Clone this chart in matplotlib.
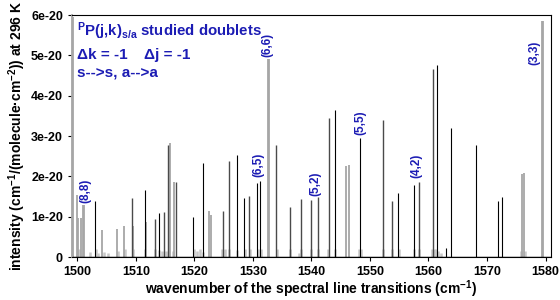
"""
Stick spectrum of PP(j,k) doublets around 1500-1580 cm-1.
"""
import matplotlib
matplotlib.use("Agg")
import matplotlib.pyplot as plt

# line positions (cm-1) and intensities (units of 1e-20)
gray_wn = [1499.25, 1499.9, 1500.2, 1500.6, 1500.95, 1501.1, 1504.2, 1506.7, 1508.0, 1509.6,
           1511.75, 1515.9, 1516.6, 1522.5, 1522.9, 1532.5, 1532.7, 1545.9, 1546.35,
           1575.9, 1576.35, 1579.35, 1579.5]
gray_int = [5.95, 1.53, 0.97, 0.97, 1.30, 1.30, 0.68, 0.70, 0.77, 0.78,
            0.88, 2.83, 1.86, 1.15, 1.05, 4.90, 4.90, 2.25, 2.29,
            2.05, 2.09, 5.86, 5.86]

dark_wn = [1509.3, 1513.2, 1514.8, 1515.5, 1516.9, 1524.9, 1525.9, 1529.4, 1534.0, 1536.35,
           1538.2, 1539.9, 1541.1, 1543.0, 1552.2, 1553.75, 1558.36, 1560.8]
dark_int = [1.47, 0.95, 1.12, 2.78, 1.86, 1.15, 2.38, 1.52, 2.78, 1.25,
            1.44, 1.42, 1.50, 3.44, 3.40, 1.40, 1.86, 4.67]

black_wn = [1503.0, 1511.5, 1513.9, 1519.8, 1521.4, 1527.25, 1528.55, 1530.7, 1531.3, 1543.97,
            1548.35, 1554.8, 1557.55, 1561.4, 1563.0, 1563.9, 1568.1, 1571.96, 1572.5]
black_int = [1.40, 1.65, 1.10, 0.98, 2.32, 2.52, 1.47, 1.84, 1.88, 3.65,
             2.96, 1.58, 1.78, 4.75, 0.23, 3.19, 2.78, 1.38, 1.48]

# weak lines sitting on the baseline
weak_wn = [1500.3, 1502.2, 1503.2, 1503.6, 1504.5, 1505.3, 1506.9, 1508.2, 1509.5, 1511.6,
           1513.3, 1514.0, 1514.5, 1515.2, 1516.4, 1519.9, 1520.5, 1521.0, 1521.5, 1524.8,
           1525.3, 1526.0, 1527.3, 1528.6, 1529.5, 1530.8, 1531.4, 1534.1, 1536.4, 1537.8,
           1538.3, 1540.0, 1541.2, 1542.9, 1544.1, 1548.2, 1548.5, 1552.2, 1553.8, 1554.9,
           1557.5, 1558.4, 1560.6, 1560.9, 1561.2, 1561.6, 1562.1, 1575.8, 1576.5]
weak_int = [0.20, 0.13, 0.20, 0.10, 0.12, 0.10, 0.15, 0.20, 0.20, 0.20,
            0.20, 0.18, 0.15, 0.15, 0.15, 0.20, 0.15, 0.20, 0.12, 0.20,
            0.20, 0.20, 0.18, 0.20, 0.20, 0.20, 0.20, 0.20, 0.20, 0.10,
            0.20, 0.20, 0.20, 0.20, 0.20, 0.20, 0.20, 0.20, 0.20, 0.20,
            0.20, 0.20, 0.20, 0.20, 0.20, 0.15, 0.10, 0.15, 0.15]

# doublet labels: text, position, height of label base (1e-20)
label_txt = ["(8,8)", "(6,6)", "(6,5)", "(5,5)", "(5,2)", "(4,2)", "(3,3)"]
label_wn = [1501.3, 1532.5, 1531.0, 1548.35, 1540.7, 1558.0, 1578.1]
label_y = [1.35, 4.97, 1.98, 3.02, 1.52, 1.95, 4.77]

yticks = [0, 1, 2, 3, 4, 5, 6]
ytick_labels = ["0", "1e-20", "2e-20", "3e-20", "4e-20", "5e-20", "6e-20"]
xticks = [1500, 1510, 1520, 1530, 1540, 1550, 1560, 1570, 1580]

plt.rcParams['font.family'] = ['Liberation Sans', 'DejaVu Sans']
plt.rcParams['font.weight'] = 'bold'
plt.rcParams['mathtext.fontset'] = 'custom'
plt.rcParams['mathtext.rm'] = 'Liberation Sans:bold'
plt.rcParams['mathtext.it'] = 'Liberation Sans:bold'
plt.rcParams['mathtext.bf'] = 'Liberation Sans:bold'

blue = '#1c1cb4'
scale = 1e-20

fig = plt.figure(figsize=(5.6, 3.0), dpi=100)
ax = fig.add_axes([0.1286, 0.1433, 0.855, 0.8067])

ax.vlines(weak_wn, 0, [v * scale for v in weak_int], colors='#c8c8c8', linewidths=1.8)
ax.vlines(gray_wn, 0, [v * scale for v in gray_int], colors='#a6a6a6', linewidths=1.3)
ax.vlines(dark_wn, 0, [v * scale for v in dark_int], colors='#4a4a4a', linewidths=1.0)
ax.vlines(black_wn, 0, [v * scale for v in black_int], colors='#000000', linewidths=0.8)
ax.axhline(0, color='black', lw=1.0)

for t, x, y in zip(label_txt, label_wn, label_y):
    ax.text(x, y * scale, t, rotation=90, ha='center', va='bottom',
            color=blue, fontsize=8.5, fontweight='bold')

ax.text(0.010, 0.913, r"$^{\mathrm{P}}$P(j,k)$_{\mathrm{s/a}}$ studied doublets",
        transform=ax.transAxes, color=blue, fontsize=10.8, fontweight='bold')
ax.text(0.010, 0.818, "\u0394k = -1", transform=ax.transAxes, color=blue,
        fontsize=11, fontweight='bold')
ax.text(0.150, 0.818, "\u0394j = -1", transform=ax.transAxes, color=blue,
        fontsize=11, fontweight='bold')
ax.text(0.010, 0.740, "s-->s, a-->a", transform=ax.transAxes, color=blue,
        fontsize=11, fontweight='bold')

ax.set_xlim(1499.1, 1580.9)
ax.set_ylim(0, 6 * scale)
ax.set_yticks([v * scale for v in yticks])
ax.set_yticklabels(ytick_labels)
ax.set_xticks(xticks)
ax.tick_params(axis='both', labelsize=9, length=3, width=0.8)
ax.spines['left'].set_color('#a6a6a6')
ax.spines['left'].set_linewidth(1.3)

ax.set_xlabel("wavenumber of the spectral line transitions (cm$^{-1}$)",
              fontsize=10, fontweight='bold', labelpad=0.5)
ax.set_ylabel("intensity (cm$^{-1}$/(molecule\u00b7cm$^{-2}$)) at 296 K",
              fontsize=10, fontweight='bold', labelpad=2)

fig.savefig("out.png", dpi=100, facecolor='white')
